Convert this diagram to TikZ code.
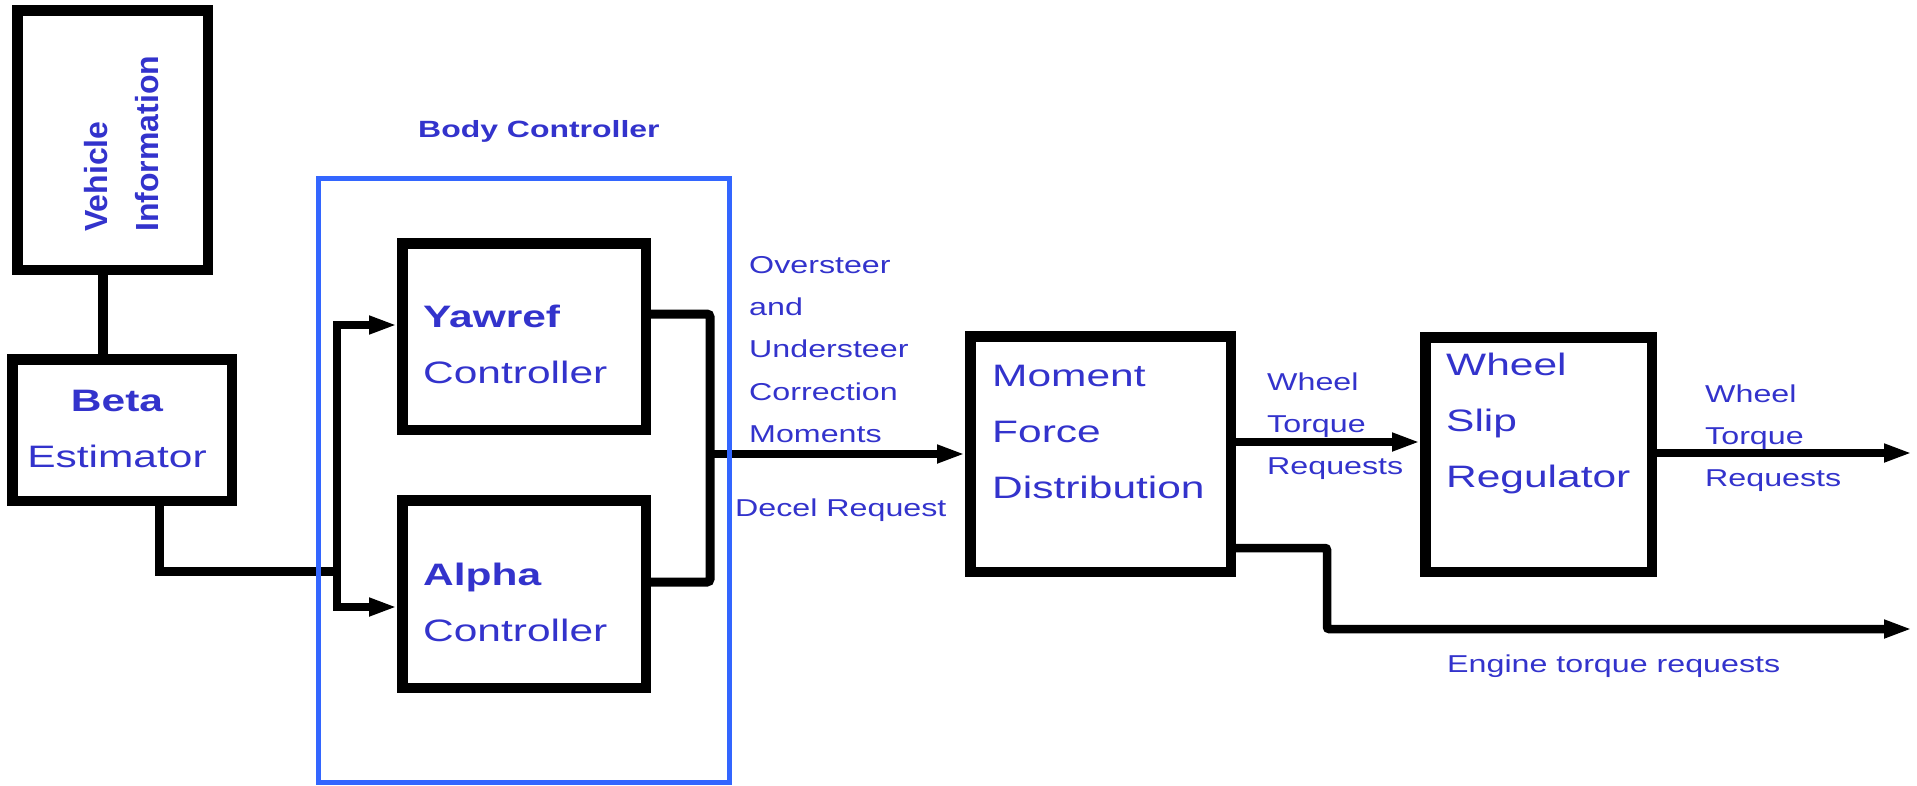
\documentclass[tikz,border=0pt]{standalone}
\usepackage{fontspec}
\setmainfont{Liberation Sans}
\newfontfamily\regLS[FakeStretch=1.37]{Liberation Sans}
\newfontfamily\boldLS[FakeStretch=1.37]{Liberation Sans}
\newfontfamily\lblLS[FakeStretch=1.32]{Liberation Sans}
\newfontfamily\titleLS[FakeStretch=1.36]{Liberation Sans}
\usetikzlibrary{arrows.meta}
\definecolor{txtblue}{RGB}{51,51,204}
\definecolor{frameblue}{RGB}{51,102,255}

\begin{document}
\begin{tikzpicture}[x=1pt,y=-1pt,
  block/.style={draw=black, line width=10.5pt, inner sep=0pt},
  wire/.style={draw=black, line width=9pt},
  arr/.style={draw=black, line width=8.5pt, -{Triangle[length=28pt,width=17pt]}},
  boxtxt/.style={text=txtblue, anchor=north west, inner sep=0pt, align=left,
    font=\regLS\fontsize{31}{56.5}\selectfont},
  lbl/.style={text=txtblue, anchor=north west, inner sep=0pt, align=left,
    font=\lblLS\fontsize{24.4}{42.3}\selectfont}]

\useasboundingbox (0,0) rectangle (1917,785);

% blocks
\node[block, minimum width=190.5, minimum height=259.5] (veh) at (112.5,140) {};
\node[block, minimum width=219.5, minimum height=141.5] (beta) at (122,430) {};
\node[block, minimum width=243.5, minimum height=186.5] (yaw) at (524,336.5) {};
\node[block, minimum width=243.5, minimum height=187.5] (alpha) at (524,594) {};
\node[block, minimum width=260.5, minimum height=235.5] (mfd) at (1100.5,454) {};
\node[block, minimum width=226.5, minimum height=234.5] (wsr) at (1538.5,454.5) {};

% block texts
\node[text=txtblue, rotate=90, anchor=north west, inner sep=0pt, align=left,
  font=\bfseries\fontsize{32}{51}\selectfont] (vehT) at (75,232)
  {\rule{0pt}{1em}Vehicle\\Information};
\node[boxtxt, anchor=north, align=center] (betaT) at (117,380)
  {\rule{0pt}{1em}{\boldLS\bfseries Beta}\\Estimator};
\node[boxtxt] (yawT) at (423,296)
  {\rule{0pt}{1em}{\boldLS\bfseries Yawref}\\Controller};
\node[boxtxt] (alphaT) at (423,554)
  {\rule{0pt}{1em}{\boldLS\bfseries Alpha}\\Controller};
\node[boxtxt, font=\regLS\fontsize{31}{56}\selectfont] (mfdT) at (992,355)
  {\rule{0pt}{1em}Moment\\Force\\Distribution};
\node[boxtxt, font=\regLS\fontsize{31}{56}\selectfont] (wsrT) at (1446,344)
  {\rule{0pt}{1em}Wheel\\Slip\\Regulator};

% signal labels
\node[text=txtblue, anchor=base west, inner sep=0pt,
  font=\titleLS\bfseries\fontsize{23.5}{28}\selectfont] (bodyT) at (418,137) {Body Controller};
\node[lbl] (corrT) at (749,248.6)
  {\rule{0pt}{1em}Oversteer\\and\\Understeer\\Correction\\Moments};
\node[lbl, anchor=base west] (decT) at (735,516) {Decel Request};
\node[lbl] (wtrA) at (1267,365.6) {\rule{0pt}{1em}Wheel\\Torque\\Requests};
\node[lbl] (wtrB) at (1705,377.6) {\rule{0pt}{1em}Wheel\\Torque\\Requests};
\node[lbl, anchor=base west] (engT) at (1447,672) {Engine torque requests};

% junction points of the wiring
\coordinate (vbx) at (103,300);
\coordinate (bOut) at (159,540);
\coordinate (busIn) at (337,571);
\coordinate (busT) at (337,325);
\coordinate (busB) at (337,607);
\coordinate (cmbT) at (710,314);
\coordinate (cmbM) at (710,454);
\coordinate (cmbB) at (710,582);
\coordinate (slipIn) at (1300,442);
\coordinate (engA) at (1327,548);
\coordinate (engB) at (1327,629);
\coordinate (outW) at (1912,453);
\coordinate (outE) at (1912,629);

% connectors
\draw[line width=10.5pt] (veh.south -| vbx) -- (beta.north -| vbx);
\draw[wire] (beta.south -| bOut) |- (busIn);
\draw[arr] (busIn) -- (busT) -- (yaw.west |- busT);
\draw[arr] (busIn) -- (busB) -- (alpha.west |- busB);
\draw[wire, rounded corners=3pt] (yaw.east |- cmbT) -- (cmbT) -- (cmbB) -- (alpha.east |- cmbB);
\draw[arr] (cmbM) -- (mfd.west);
\draw[arr] (mfd.east |- slipIn) -- (wsr.west |- slipIn);
\draw[arr] (wsr.east |- outW) -- (outW);
\draw[arr, rounded corners=2pt] (mfd.east |- engA) -- (engA) -- (engB) -- (outE);

% body controller frame
\node[draw=frameblue, line width=5pt, inner sep=0pt, minimum width=411, minimum height=604]
  (body) at (524,480.5) {};
\end{tikzpicture}
\end{document}
